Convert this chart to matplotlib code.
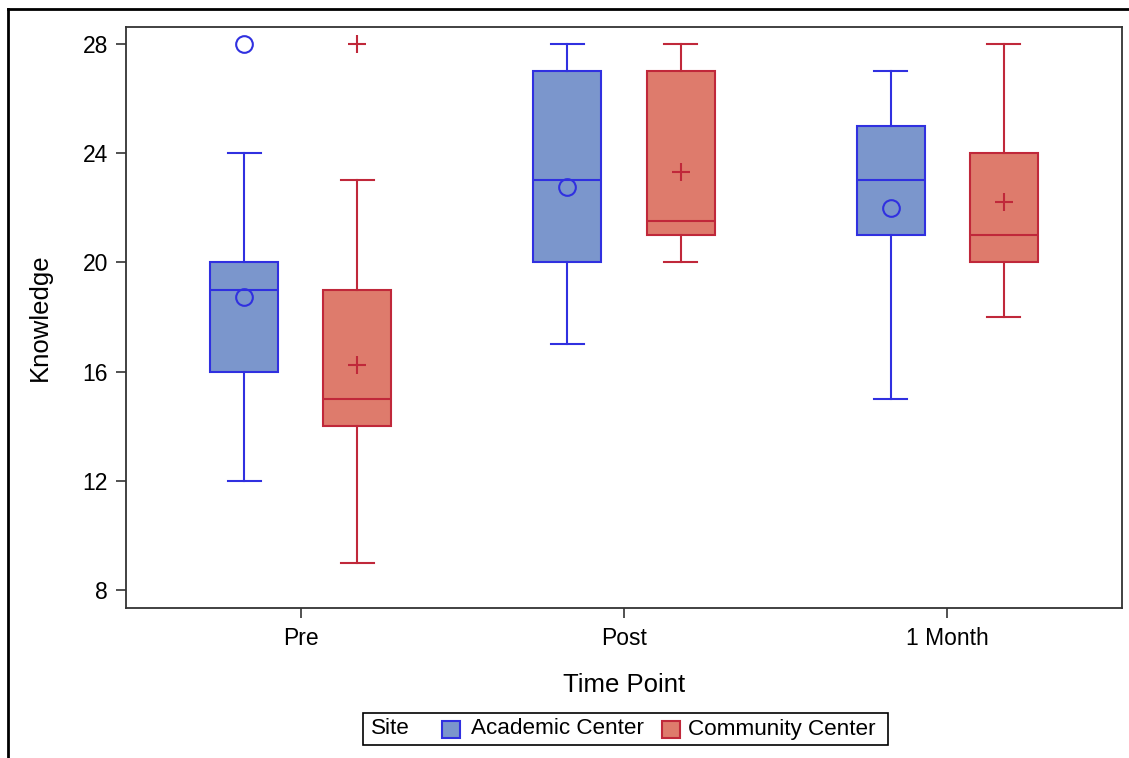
import matplotlib
matplotlib.use("Agg")
import matplotlib.pyplot as plt
from matplotlib.patches import Rectangle
from matplotlib.lines import Line2D

plt.rcParams['font.family'] = ['Liberation Sans', 'DejaVu Sans']

# Werte
time_points = ['Pre', 'Post', '1 Month']
sites = ['Academic Center', 'Community Center']

acad_q1 = [16, 20, 21]
acad_med = [19, 23, 23]
acad_q3 = [20, 27, 25]
acad_lo = [12, 17, 15]
acad_hi = [24, 28, 27]
acad_mean = [18.73, 22.76, 22.0]
acad_out = [[28], [], []]

comm_q1 = [14, 21, 20]
comm_med = [15, 21.5, 21]
comm_q3 = [19, 27, 24]
comm_lo = [9, 20, 18]
comm_hi = [23, 28, 28]
comm_mean = [16.24, 23.31, 22.2]
comm_out = [[28], [], []]

# Farben
blue_line = '#3030e0'
blue_fill = '#7b96cc'
red_line = '#c0283a'
red_fill = '#de7b6c'

W, H = 1129, 758


def fx(px):
    return px / W


def fy(py):
    return 1 - py / H


def make_stats(q1, med, q3, lo, hi, mean, out):
    stats = []
    for i in range(len(q1)):
        stats.append(dict(q1=q1[i], med=med[i], q3=q3[i], whislo=lo[i],
                          whishi=hi[i], mean=mean[i], fliers=out[i]))
    return stats


fig = plt.figure(figsize=(W / 100, H / 100), dpi=100)
ax = fig.add_axes([fx(126), fy(608), fx(1122) - fx(126), fy(27) - fy(608)])

offset = 0.175
bw = 0.21
cw = 0.102
lw = 1.5

groups = [
    (make_stats(acad_q1, acad_med, acad_q3, acad_lo, acad_hi, acad_mean, acad_out),
     -offset, blue_line, blue_fill, 'o'),
    (make_stats(comm_q1, comm_med, comm_q3, comm_lo, comm_hi, comm_mean, comm_out),
     offset, red_line, red_fill, '+'),
]

for stats, off, lc, fc, mk in groups:
    pos = [i + off for i in range(len(time_points))]
    if mk == 'o':
        mprops = dict(marker='o', markersize=12, markerfacecolor='none',
                      markeredgecolor=lc, markeredgewidth=1.5)
    else:
        mprops = dict(marker='+', markersize=13, markeredgecolor=lc,
                      markeredgewidth=1.5)
    ax.bxp(stats, positions=pos, widths=bw, capwidths=cw, patch_artist=True,
           showmeans=True, showfliers=True,
           boxprops=dict(facecolor=fc, edgecolor=lc, linewidth=lw),
           medianprops=dict(color=lc, linewidth=lw),
           whiskerprops=dict(color=lc, linewidth=lw),
           capprops=dict(color=lc, linewidth=lw),
           meanprops=mprops, flierprops=mprops, manage_ticks=False)

ax.set_xlim(-0.54, 2.54)
ax.set_ylim(7.34, 28.62)
ax.set_xticks(range(len(time_points)))
ax.set_xticklabels(time_points)
ax.set_yticks([8, 12, 16, 20, 24, 28])

for s in ax.spines.values():
    s.set_color('#333333')
    s.set_linewidth(1.3)
ax.tick_params(axis='both', length=7, width=1.2, color='#333333',
               labelsize=16.5)
ax.tick_params(axis='y', pad=6)
ax.tick_params(axis='x', pad=7)

ax.set_xlabel('Time Point', fontsize=18.5, labelpad=16)
ax.set_ylabel('Knowledge', fontsize=18.5, labelpad=22)

# äußerer Rahmen
fig.add_artist(Line2D([fx(8), fx(8)], [fy(9), 0], transform=fig.transFigure,
                      color='black', linewidth=2))
fig.add_artist(Line2D([fx(8), 1], [fy(9), fy(9)], transform=fig.transFigure,
                      color='black', linewidth=2))

# Legende
fig.add_artist(Rectangle((fx(363), fy(745)), fx(888) - fx(363), fy(713) - fy(745),
                         transform=fig.transFigure, facecolor='white',
                         edgecolor='black', linewidth=1.2))
fig.text(fx(371), fy(729), 'Site', fontsize=16.2, va='center', ha='left')
fig.add_artist(Rectangle((fx(442), fy(738)), fx(460) - fx(442), fy(721) - fy(738),
                         transform=fig.transFigure, facecolor=blue_fill,
                         edgecolor=blue_line, linewidth=1.5))
fig.text(fx(471), fy(729), sites[0], fontsize=16.2, va='center', ha='left')
fig.add_artist(Rectangle((fx(662), fy(738)), fx(680) - fx(662), fy(721) - fy(738),
                         transform=fig.transFigure, facecolor=red_fill,
                         edgecolor=red_line, linewidth=1.5))
fig.text(fx(688), fy(729), sites[1], fontsize=16.2, va='center', ha='left')

fig.savefig('out.png', dpi=100)
